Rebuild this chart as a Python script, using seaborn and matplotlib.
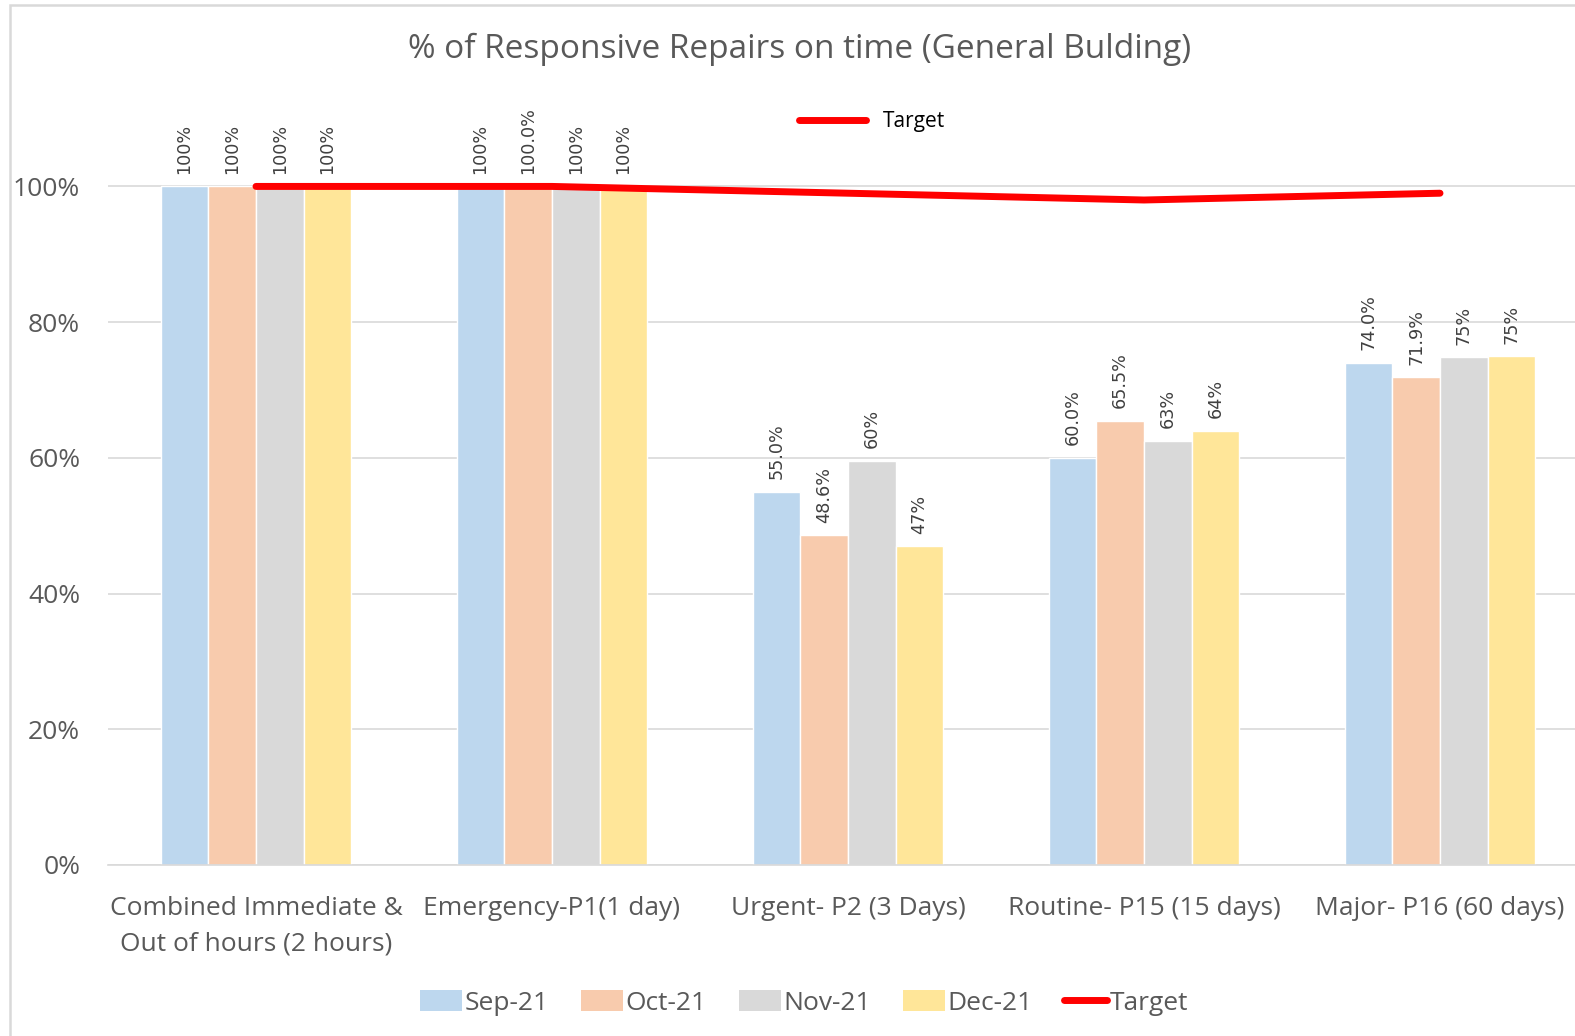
import numpy as np
import pandas as pd
import matplotlib
matplotlib.use("Agg")
import matplotlib.pyplot as plt
import seaborn as sns
from matplotlib.patches import Patch, Rectangle
from matplotlib.lines import Line2D

# ─── Data ──────────────────────────────────────────────────────────────────────
categories = [
    "Combined Immediate &\nOut of hours (2 hours)",
    "Emergency-P1(1 day)",
    "Urgent- P2 (3 Days)",
    "Routine- P15 (15 days)",
    "Major- P16 (60 days)",
]
months = ["Sep-21", "Oct-21", "Nov-21", "Dec-21"]

sep_21 = [1.00, 1.00, 0.550, 0.600, 0.740]
oct_21 = [1.00, 1.00, 0.486, 0.655, 0.719]
nov_21 = [1.00, 1.00, 0.596, 0.625, 0.748]
dec_21 = [1.00, 1.00, 0.470, 0.640, 0.750]
target = [1.00, 1.00, 0.99, 0.98, 0.99]

sep_labels = ["100%", "100%", "55.0%", "60.0%", "74.0%"]
oct_labels = ["100%", "100.0%", "48.6%", "65.5%", "71.9%"]
nov_labels = ["100%", "100%", "60%", "63%", "75%"]
dec_labels = ["100%", "100%", "47%", "64%", "75%"]

colors = ["#BDD7EE", "#F8CBAD", "#D9D9D9", "#FFE699"]
TEXT = "#595959"
GRID = "#D9D9D9"

df = pd.DataFrame({
    "category": categories * 4,
    "month": np.repeat(months, len(categories)),
    "value": sep_21 + oct_21 + nov_21 + dec_21,
})

# ─── Figure ────────────────────────────────────────────────────────────────────
sns.set_style("white")
plt.rcParams["font.family"] = ["Open Sans", "DejaVu Sans"]

fig = plt.figure(figsize=(15.75, 10.36), dpi=100)
ax = fig.add_axes([108 / 1575, 171 / 1036, 1480 / 1575, 760 / 1036])

sns.barplot(data=df, x="category", y="value", hue="month", order=categories,
            hue_order=months, palette=colors, saturation=1, width=0.645, gap=0,
            ax=ax, legend=False)

for cont, labs in zip(ax.containers, [sep_labels, oct_labels, nov_labels, dec_labels]):
    ax.bar_label(cont, labels=labs, rotation=90, padding=9, fontsize=12.7,
                 color="#404040", family="DejaVu Sans")

sns.lineplot(x=np.arange(len(categories)), y=target, color="#FF0000", lw=5,
             ax=ax, sort=False, solid_capstyle="round", zorder=5)

ax.set_ylim(0, 1.12)
ax.set_xlim(-0.5, len(categories) - 0.5)
ax.set_yticks(np.arange(0, 1.01, 0.2))
ax.set_yticklabels([f"{int(round(v * 100))}%" for v in np.arange(0, 1.01, 0.2)])
ax.yaxis.grid(True, color=GRID, lw=1.2)
ax.set_axisbelow(True)
ax.set_xlabel("")
ax.set_ylabel("")
for s in ["top", "right", "left"]:
    ax.spines[s].set_visible(False)
ax.spines["bottom"].set_color(GRID)
ax.spines["bottom"].set_linewidth(1.2)

ax.tick_params(axis="y", length=0, pad=20, labelsize=19, labelcolor=TEXT)
ax.tick_params(axis="x", length=0, pad=22, labelsize=19, labelcolor=TEXT)
for lab in ax.get_xticklabels():
    lab.set_linespacing(1.55)
ax.set_xticks(np.arange(-0.5, len(categories)), minor=True)
ax.tick_params(axis="x", which="minor", length=11, color=GRID, width=1.2)

fig.text(800 / 1575, 1 - 49 / 1036, "% of Responsive Repairs on time (General Bulding)",
         ha="center", va="center", fontsize=24, color=TEXT)

# top "Target" legend
fig.legend(handles=[Line2D([], [], color="#FF0000", lw=5)], labels=["Target"],
           loc="center", bbox_to_anchor=(872 / 1575, 1 - 122 / 1036),
           frameon=False, fontsize=15, handlelength=3.2, handletextpad=0.8,
           labelcolor="#000000")

# bottom legend
handles = [Patch(facecolor=c, edgecolor="none") for c in colors]
handles.append(Line2D([], [], color="#FF0000", lw=5))
fig.legend(handles=handles, labels=months + ["Target"], loc="center", ncol=5,
           bbox_to_anchor=(804 / 1575, 1 - 1003 / 1036), frameon=False, fontsize=19,
           handlelength=1.6, handleheight=0.8, handletextpad=0.1, columnspacing=1.2,
           labelcolor=TEXT)

# chart border
fig.add_artist(Rectangle((10 / 1575, -0.1), 1.2, 1 - 5 / 1036 + 0.1,
                         transform=fig.transFigure, fill=False, edgecolor=GRID, lw=1.8))

fig.savefig("out.png", dpi=100)
